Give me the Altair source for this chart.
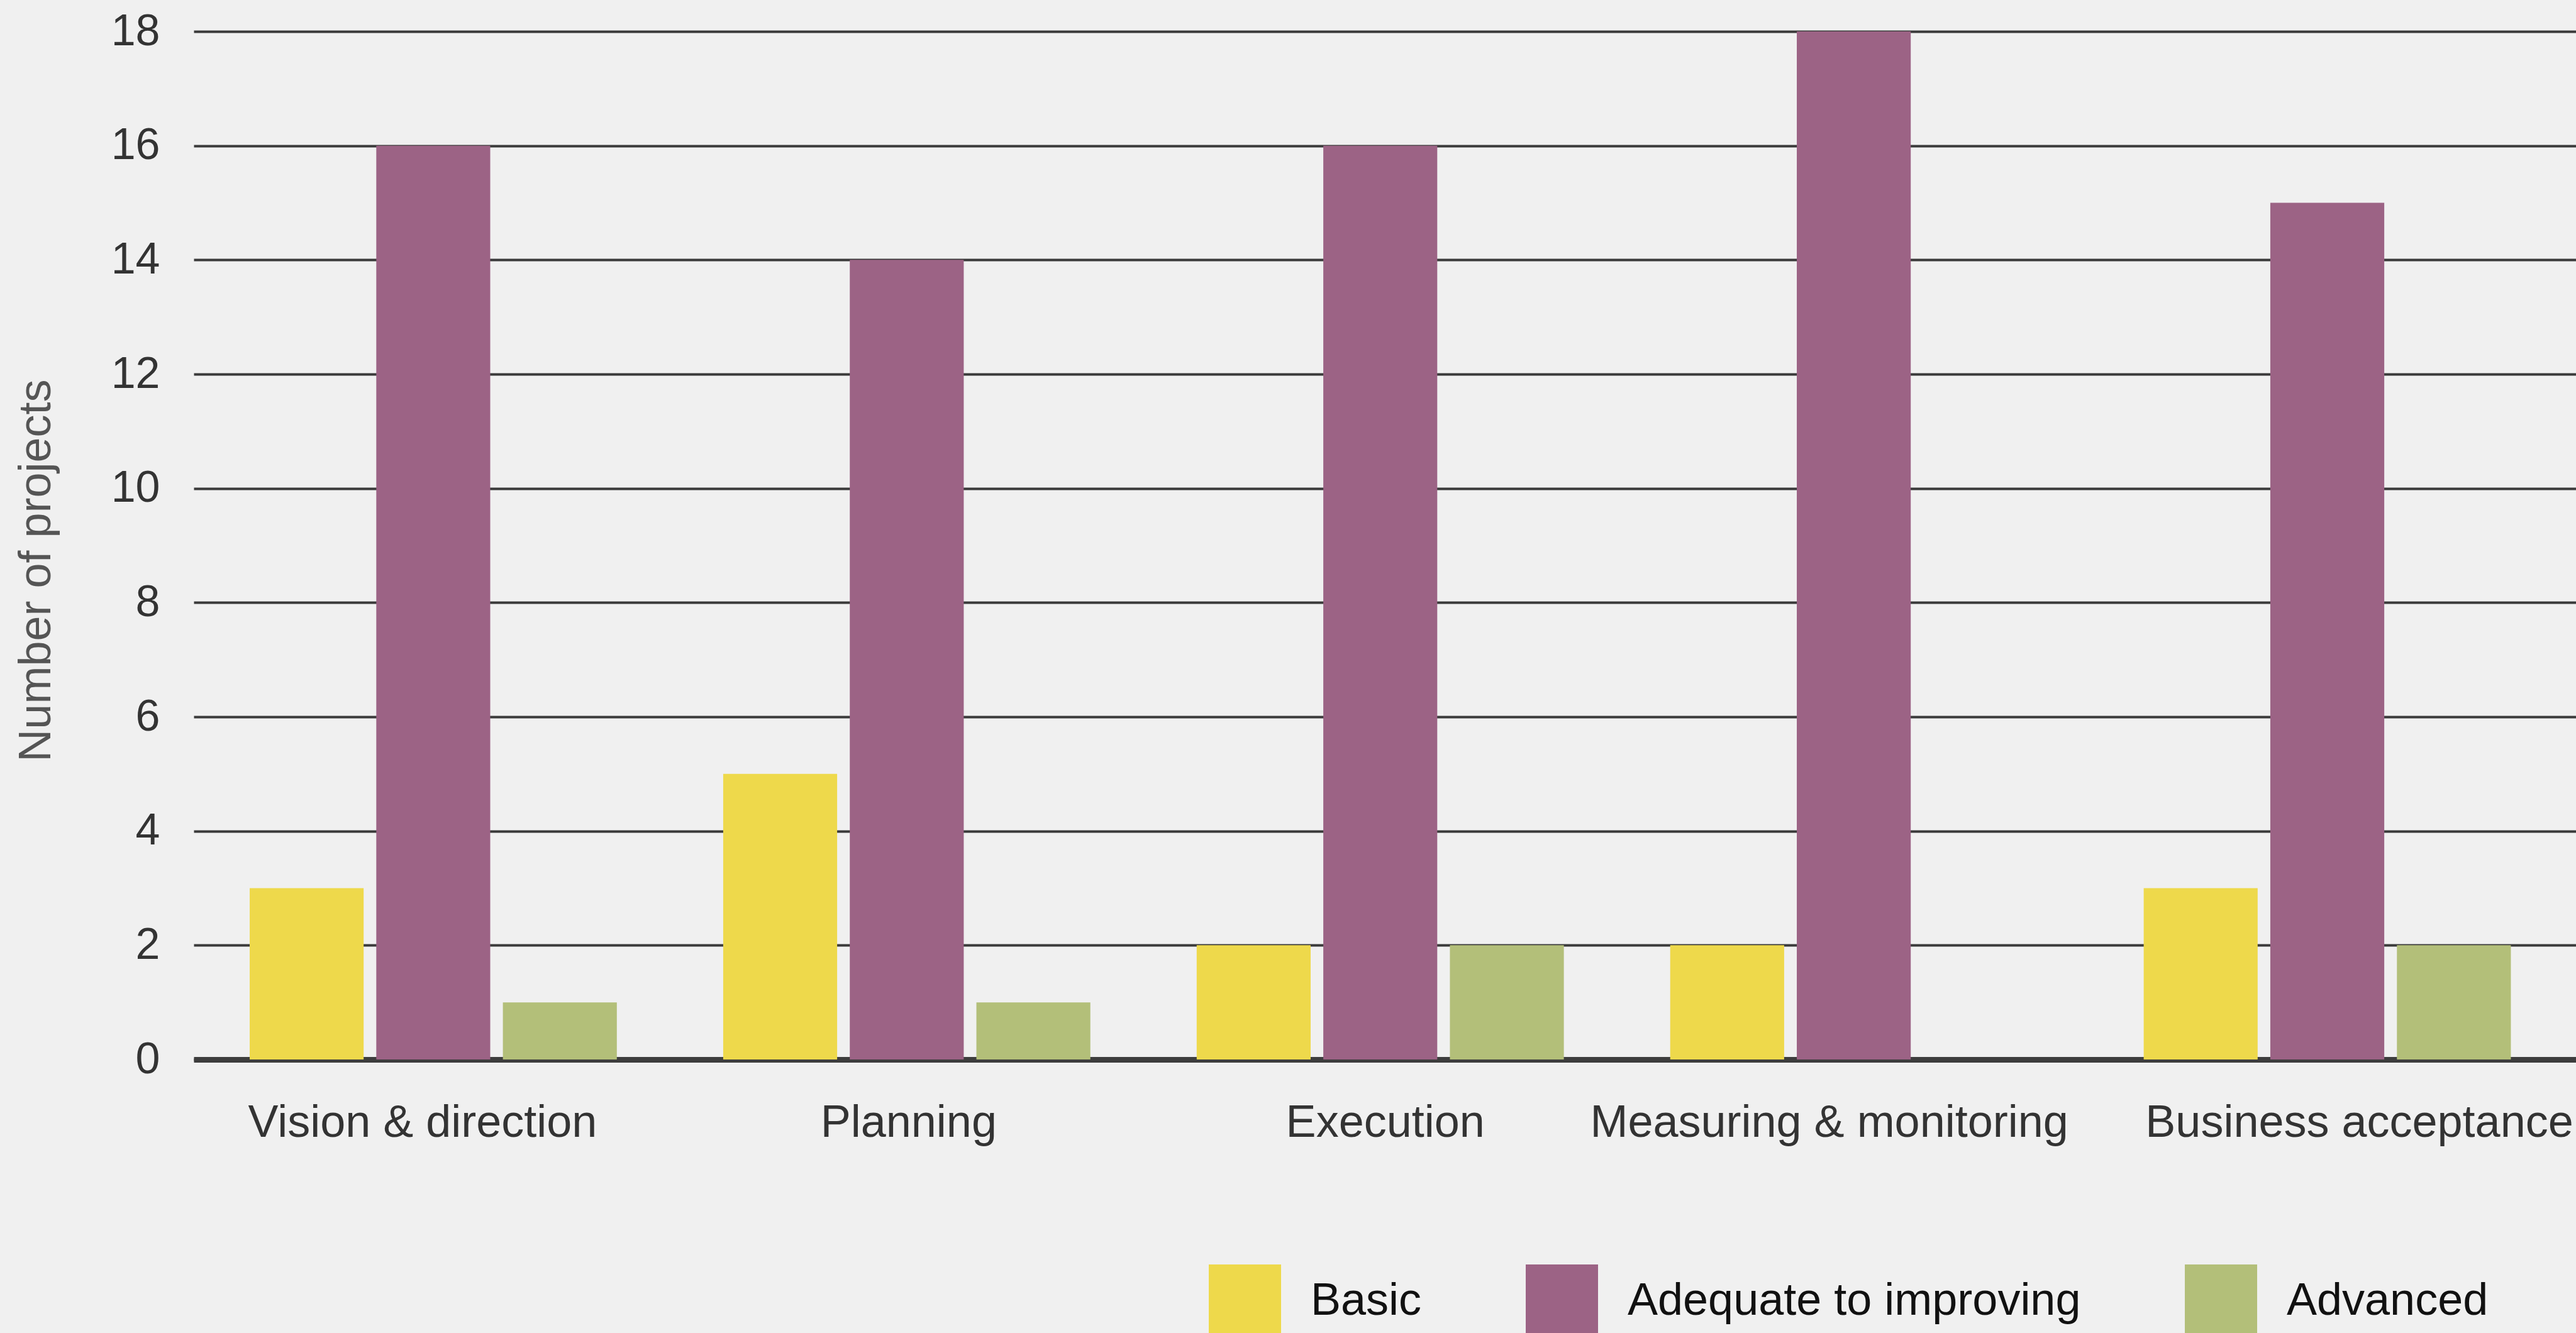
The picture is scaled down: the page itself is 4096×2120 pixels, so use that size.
import altair as alt
import pandas as pd

categories = ["Vision & direction", "Planning", "Execution", "Measuring & monitoring", "Business acceptance"]
levels = ["Basic", "Adequate to improving", "Advanced"]
basic = [3, 5, 2, 2, 3]
adequate = [16, 14, 16, 18, 15]
advanced = [1, 1, 2, 0, 2]
colors = ["#EED94B", "#9C6385", "#B3BF79"]
y_ticks = [0, 2, 4, 6, 8, 10, 12, 14, 16, 18]

# per-label horizontal nudge of the category labels (pixels), as in the original layout
label_nudge = [-17, 3, 8, -39, 51]

rows = []
for i, c in enumerate(categories):
    for lvl, vals in zip(levels, [basic, adequate, advanced]):
        rows.append({"Area": c, "Level": lvl, "Count": vals[i]})
df = pd.DataFrame(rows)

nudge_expr = " : ".join(f"datum.value === '{c}' ? {n}" for c, n in zip(categories, label_nudge)) + " : 0"

FONT = "Liberation Sans, Arial, sans-serif"

chart = alt.Chart(df).mark_bar().encode(
    x=alt.X("Area:N", sort=categories,
            scale=alt.Scale(paddingInner=0, paddingOuter=0.0156, align=0.19),
            axis=alt.Axis(title=None, labelAngle=0, ticks=False,
                          domainWidth=9, domainColor="#3d3d3d",
                          labelFontSize=72, labelPadding=65, labelColor="#333333",
                          labelFont=FONT, labelLimit=1000,
                          labelOffset=alt.ExprRef(nudge_expr))),
    xOffset=alt.XOffset("Level:N", sort=levels,
                        scale=alt.Scale(paddingInner=0.1, paddingOuter=0.42)),
    y=alt.Y("Count:Q", scale=alt.Scale(domain=[0, 18]),
            axis=alt.Axis(values=y_ticks, title="Number of projects",
                          grid=True, gridColor="#3a3a3a", gridWidth=4,
                          domain=False, ticks=False, labelPadding=54,
                          labelFontSize=70, labelColor="#333333", labelFont=FONT,
                          titleFontSize=72, titleFontWeight="normal",
                          titleColor="#555555", titleFont=FONT,
                          titleX=-251, titleY=857, titleAlign="center",
                          titleBaseline="middle", titleAngle=270)),
    color=alt.Color("Level:N", sort=levels,
                    scale=alt.Scale(domain=levels, range=colors),
                    legend=alt.Legend(title=None, orient="none", legendX=1614, legendY=1961,
                                      direction="horizontal", symbolType="square",
                                      symbolSize=13225, symbolStrokeWidth=0,
                                      labelFontSize=72, labelFont=FONT, labelColor="#111111",
                                      labelOffset=47, columnPadding=165, labelLimit=1000)),
).properties(
    width=3788, height=1635,
    autosize=alt.AutoSizeParams(type="none"),
    padding={"left": 308, "top": 50, "right": 0, "bottom": 435},
    background="#f0f0f0",
).configure_view(stroke=None)

chart.save("out.html", embed_options={"renderer": "svg", "actions": False})
